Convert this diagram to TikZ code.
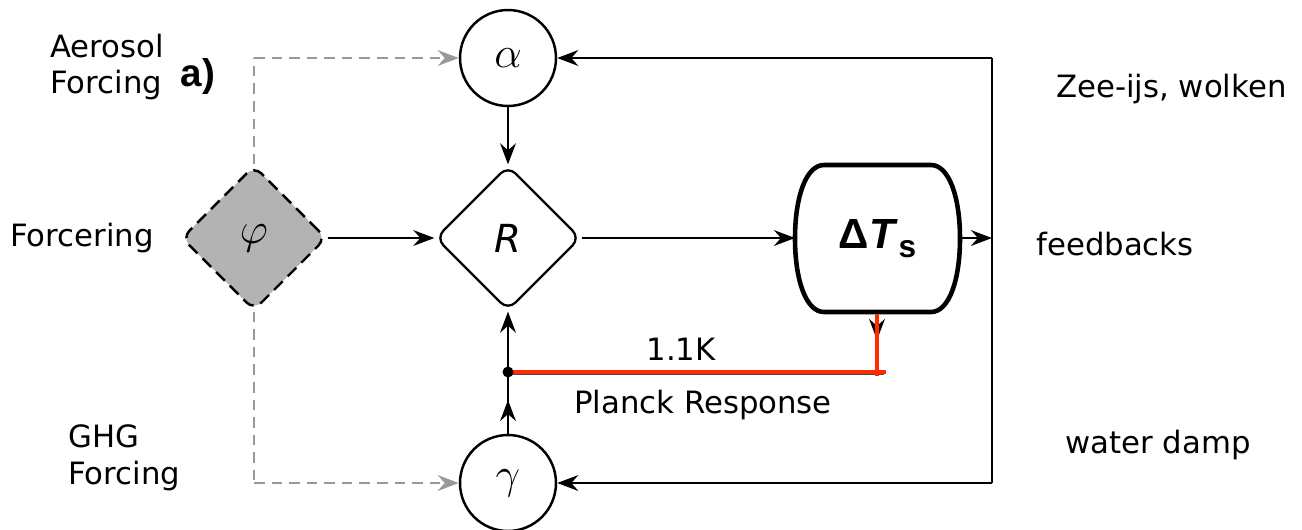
\documentclass[tikz,border=0pt]{standalone}
\usepackage{fontspec}
\setmainfont{DejaVu Sans}
\newfontfamily\boldsans{Liberation Sans}
\usetikzlibrary{arrows.meta,shapes.geometric}
\definecolor{redline}{HTML}{FF2A00}
\definecolor{dashgray}{HTML}{999999}
\definecolor{phigray}{HTML}{B3B3B3}
\tikzset{
  lbl/.style={font=\fontsize{17.5}{21}\selectfont, inner sep=0pt, align=left},
  circ/.style={circle, draw, line width=1.4pt, minimum size=1.92cm, inner sep=0pt, font=\fontsize{28}{28}\selectfont},
  dia/.style={diamond, draw, line width=1.3pt, aspect=1, minimum size=2.9cm, inner sep=0pt, rounded corners=6pt},
  conn/.style={line width=1.1pt, -{Stealth[length=12pt,width=9pt,inset=4pt]}},
  plain/.style={line width=1.1pt},
  gdash/.style={dashgray, line width=1.1pt, dash pattern=on 6pt off 4pt},
  garrow/.style={gdash, -{Stealth[length=12pt,width=9pt,inset=4pt]}},
}
\begin{document}
\begin{tikzpicture}[x=0.02cm,y=-0.02cm]
\useasboundingbox (0,0) rectangle (1302,529);
% nodes
\node[circ] (alpha) at (508,58) {$\alpha$};
\node[circ] (gamma) at (508,483) {$\gamma$};
\node[dia] (R) at (508,238) {\fontsize{22}{22}\selectfont\itshape R};
\node[dia, fill=phigray, dash pattern=on 7pt off 4pt, line width=1.4pt, font=\fontsize{28}{28}\selectfont] (phi) at (254,238) {$\varphi$};
\node[minimum width=3.3cm, minimum height=2.94cm, inner sep=0pt] (dT) at (877.5,238.5) {\boldsans\bfseries\fontsize{24}{24}\selectfont Δ\kern0.5pt\textit{T}\raisebox{-5pt}{\fontsize{18}{18}\selectfont s}};
\draw[line width=2.6pt, line join=round]
  (824,165) -- (931,165) .. controls (949,165) and (960,197) .. (960,238.5)
  .. controls (960,280) and (949,312) .. (931,312) -- (824,312)
  .. controls (806,312) and (795,280) .. (795,238.5)
  .. controls (795,197) and (806,165) .. (824,165) -- cycle;
\coordinate (jr) at (992,238);
\coordinate (jtop) at (992,58);
\coordinate (jbot) at (992,483);
\coordinate (dot) at (508,372);
\coordinate (dTb) at (877,312);
\coordinate (dTd) at (877,340);
\coordinate (redend) at (886,372);
\coordinate (redtop) at (877,314);
\coordinate (redbot) at (877,376);
\coordinate (gtop) at (254,58);
\coordinate (gbot) at (254,483);
% connectors
\draw[conn] (alpha) -- (R);
\draw[conn] (phi.east) -- (R.west);
\draw[conn] (R.east) -- (795,238);
\draw[conn] (960,238) -- (jr);
\draw[plain] (jtop) -- (jbot);
\draw[conn] (jtop) -- (alpha);
\draw[conn] (jbot) -- (gamma);
\draw[conn] (gamma.north) -- (508,400);
\draw[plain] (508,405) -- (dot);
\draw[conn] (dot) -- (R.south);
\draw[conn] (dTb) -- (dTd);
\draw[plain] (dTd) -- (877,372);
\draw[line width=0.8pt, black!70] (510,374) -- (884,374);
\draw[redline, line width=2.6pt] (dot) -- (redend);
\draw[redline, line width=2.6pt] (redtop) -- (redbot);
\fill (dot) circle (5.5);
\draw[gdash] (phi.north) -- (gtop);
\draw[garrow] (gtop) -- (alpha.west);
\draw[gdash] (phi.south) -- (gbot);
\draw[garrow] (gbot) -- (gamma.west);
% labels
\node[lbl, anchor=west] (aer) at (50,67) {Aerosol\\Forcing};
\node[lbl, anchor=center, font=\boldsans\bfseries\fontsize{22}{22}\selectfont] (a) at (198,76) {a)};
\node[lbl, anchor=west] (forc) at (10,238) {Forcering};
\node[lbl, anchor=west] (ghg) at (68,458) {GHG\\Forcing};
\node[lbl, anchor=west] (zee) at (1056,89) {Zee-ijs, wolken};
\node[lbl, anchor=west] (fb) at (1036,244) {feedbacks};
\node[lbl, anchor=west] (wd) at (1065,445) {water damp};
\node[lbl] (k) at (681,349) {1.1K};
\node[lbl] (pr) at (703,405) {Planck Response};
\end{tikzpicture}
\end{document}
